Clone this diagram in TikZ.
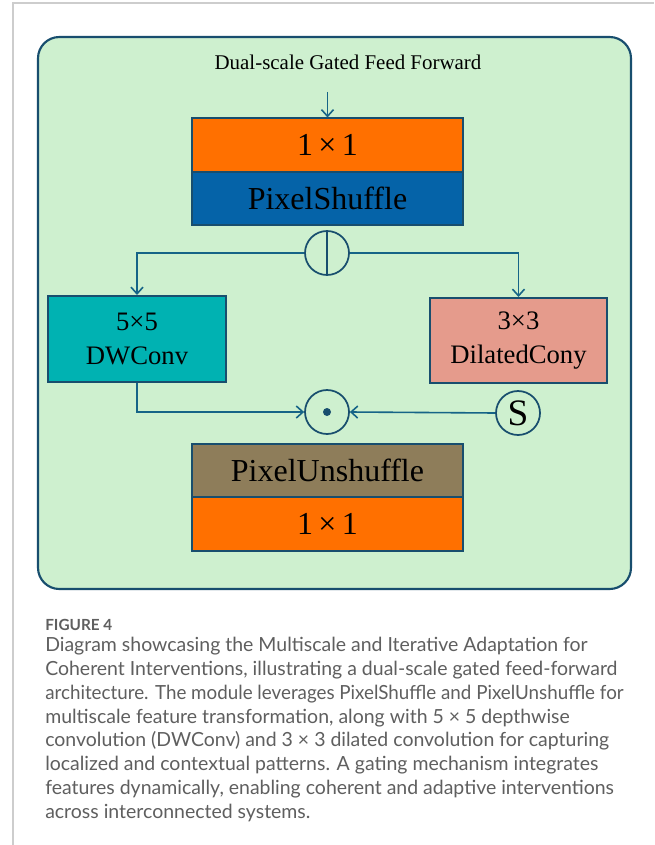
\documentclass[tikz,border=0pt]{standalone}
\usepackage{fontspec}
\usepackage{graphicx}
\setmainfont{Liberation Serif}
\newfontfamily\capfont{Lato}
\usetikzlibrary{arrows.meta}
\definecolor{bggreen}{RGB}{206,240,207}
\definecolor{edgeblue}{RGB}{24,78,110}
\definecolor{linkblue}{RGB}{22,100,135}
\definecolor{boxorange}{RGB}{255,112,0}
\definecolor{boxblue}{RGB}{5,99,168}
\definecolor{boxteal}{RGB}{0,178,178}
\definecolor{boxsalmon}{RGB}{229,155,140}
\definecolor{boxbrown}{RGB}{142,125,90}
\definecolor{framegrey}{RGB}{205,205,205}
\definecolor{capgrey}{RGB}{95,95,95}
\tikzset{
  blockbox/.style={draw=edgeblue, line width=1.5pt, rectangle, inner sep=0pt, text=black},
  wideblock/.style={blockbox, minimum width={271*0.75pt}, minimum height={53*0.75pt}, font=\fontsize{24}{26}\selectfont},
  sidebox/.style={blockbox, align=center, font=\fontsize{20}{25.5}\selectfont},
  opcircle/.style={draw=edgeblue, line width=1.3pt, circle, minimum size={44*0.75pt}, inner sep=0pt},
  link/.style={draw=linkblue, line width=1.2pt},
  arrowlink/.style={link, -{Straight Barb[length=5pt,width=9pt,line width=1.2pt]}}
}
\begin{document}
\begin{tikzpicture}[x=0.75pt,y=-0.75pt]
\useasboundingbox (0,0) rectangle (654,845);
\fill[white] (0,0) rectangle (654,845);
% page frame
\draw[framegrey, line width=1.2pt] (13,845) -- (13,3) -- (654,3);
% module background
\draw[edgeblue, fill=bggreen, line width=1.6pt, rounded corners=16pt] (38,37) rectangle (631,589);
\node[font=\fontsize{15.7}{18}\selectfont] (title) at (348,62) {Dual-scale Gated Feed Forward};
\coordinate (inp) at (327.5,92);
% blocks
\node[wideblock, fill=boxorange] (conv1) at (327.5,145) {1\,×\,1};
\node[wideblock, fill=boxblue, minimum height={53*0.75pt}] (pshuf) at (327.5,198.5) {PixelShuffle};
\node[opcircle] (split) at (327,253) {};
\draw[edgeblue, line width=1.3pt] (split.north) -- (split.south);
\node[sidebox, fill=boxteal, minimum width={178*0.75pt}, minimum height={86*0.75pt}] (dw) at (137,339) {5×5\\DWConv};
\node[sidebox, fill=boxsalmon, minimum width={177*0.75pt}, minimum height={85*0.75pt}] (dil) at (518.5,340.5) {3×3\\DilatedCony};
\node[opcircle] (mult) at (327,412) {};
\fill[edgeblue] (mult.center) circle[radius=4];
\node[opcircle, font=\fontsize{28}{28}\selectfont] (sig) at (518,413) {S};
\node[wideblock, fill=boxbrown] (punshuf) at (327.5,470.5) {PixelUnshuffle};
\node[wideblock, fill=boxorange, minimum height={54*0.75pt}] (conv2) at (327.5,524) {1\,×\,1};
% connectors
\draw[arrowlink] (inp) -- (conv1.north);
\draw[arrowlink] (split.west) -| (dw.north);
\draw[arrowlink] (split.east) -| (dil.north);
\draw[arrowlink] (dw.south) |- (mult.west);
\draw[arrowlink] (sig.west) -- (mult.east);
% caption
\node[anchor=base west, inner sep=0pt, text=capgrey, font=\capfont\bfseries\fontsize{11.5}{12}\selectfont] (figlabel) at (45,630) {FIGURE 4};
\node[anchor=north west, inner sep=0pt, align=left, text=capgrey, font=\capfont\fontsize{14.6}{17.85}\selectfont] (caption) at (45,637) {Diagram showcasing the Multiscale and Iterative Adaptation for\\
Coherent Interventions, illustrating a dual-scale gated feed-forward\\
\scalebox{0.965}[1]{architecture. The module leverages PixelShuffle and PixelUnshuffle for}\\
multiscale feature transformation, along with 5 × 5 depthwise\\
convolution (DWConv) and 3 × 3 dilated convolution for capturing\\
localized and contextual patterns. A gating mechanism integrates\\
features dynamically, enabling coherent and adaptive interventions\\
across interconnected systems.};
\end{tikzpicture}
\end{document}
